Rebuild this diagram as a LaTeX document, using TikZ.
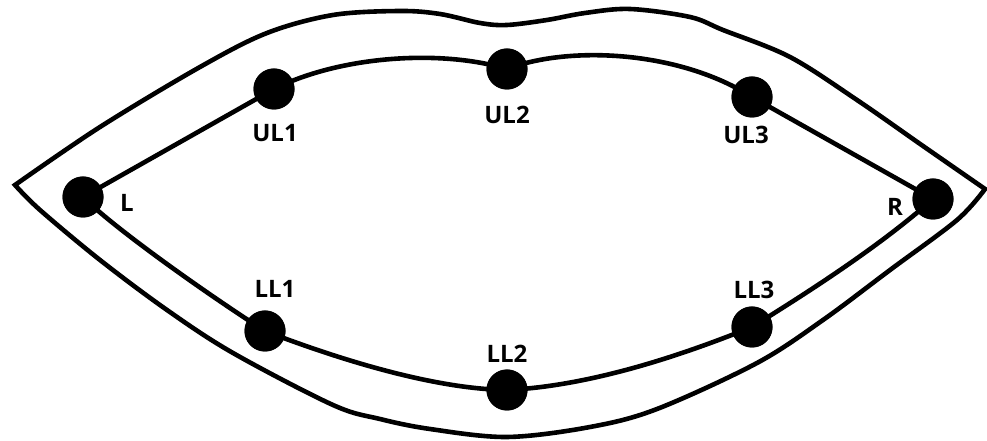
\documentclass[tikz,border=0pt]{standalone}
\usepackage{fontspec}
\setmainfont{Open Sans}
\begin{document}
\begin{tikzpicture}[x=1pt,y=1pt,
  lipline/.style={line width=4.6pt,line join=miter,line cap=round},
  landmark/.style={circle,fill=black,inner sep=0pt,minimum size=41pt},
  tag/.style={font=\fontsize{24}{27}\selectfont\bfseries,inner sep=0pt}]
\useasboundingbox (0,0) rectangle (987,441);

% outer outline of the lips
\draw[lipline]
  plot[smooth,tension=0.55] coordinates {(15,256) (100,314) (200,374) (267,408) (333,426)
    (400,430) (440,427) (480,418) (507,416) (547,421) (585,428) (630,432) (690,424)
    (723,411) (790,384) (857,341) (923,295) (985,252)}
  -- plot[smooth,tension=0.55] coordinates {(985,252) (957,221) (890,171) (823,121)
    (757,78) (657,32) (590,14) (507,4) (430,12) (380,22) (333,36) (233,88) (167,131)
    (100,181) (40,231) (15,256)}
  -- cycle;

% landmark positions
\coordinate (pL)   at (83,244);
\coordinate (pUL1) at (274,352);
\coordinate (pUL2) at (507,372);
\coordinate (pUL3) at (752,344);
\coordinate (pR)   at (933,242);
\coordinate (pLL1) at (265,110);
\coordinate (pLL2) at (507,51);
\coordinate (pLL3) at (752,114);

\node[landmark] (L)   at (pL)   {};
\node[landmark] (UL1) at (pUL1) {};
\node[landmark] (UL2) at (pUL2) {};
\node[landmark] (UL3) at (pUL3) {};
\node[landmark] (R)   at (pR)   {};
\node[landmark] (LL1) at (pLL1) {};
\node[landmark] (LL2) at (pLL2) {};
\node[landmark] (LL3) at (pLL3) {};

% inner contour through the landmarks
\draw[lipline] (L.center) -- (UL1.center)
  .. controls (340,385) and (440,392) .. (UL2.center)
  .. controls (570,396) and (680,390) .. (UL3.center)
  -- (R.center);
\draw[lipline] (L.center)
  .. controls (115,212) and (210,145) .. (LL1.center)
  .. controls (330,85) and (430,52) .. (LL2.center)
  .. controls (590,55) and (680,85) .. (LL3.center)
  .. controls (810,150) and (880,195) .. (R.center);

% dots on top of the contour
\foreach \n in {L,UL1,UL2,UL3,R,LL1,LL2,LL3}
  \fill (\n) circle (20.5pt);

% labels
\node[tag] (tL)   at (127,238) {L};
\node[tag] (tUL1) at (275,308) {UL1};
\node[tag] (tUL2) at (507,326) {UL2};
\node[tag] (tUL3) at (746,306) {UL3};
\node[tag] (tR)   at (895,234) {R};
\node[tag] (tLL1) at (275,152) {LL1};
\node[tag] (tLL2) at (507,87)  {LL2};
\node[tag] (tLL3) at (754,151) {LL3};
\end{tikzpicture}
\end{document}
